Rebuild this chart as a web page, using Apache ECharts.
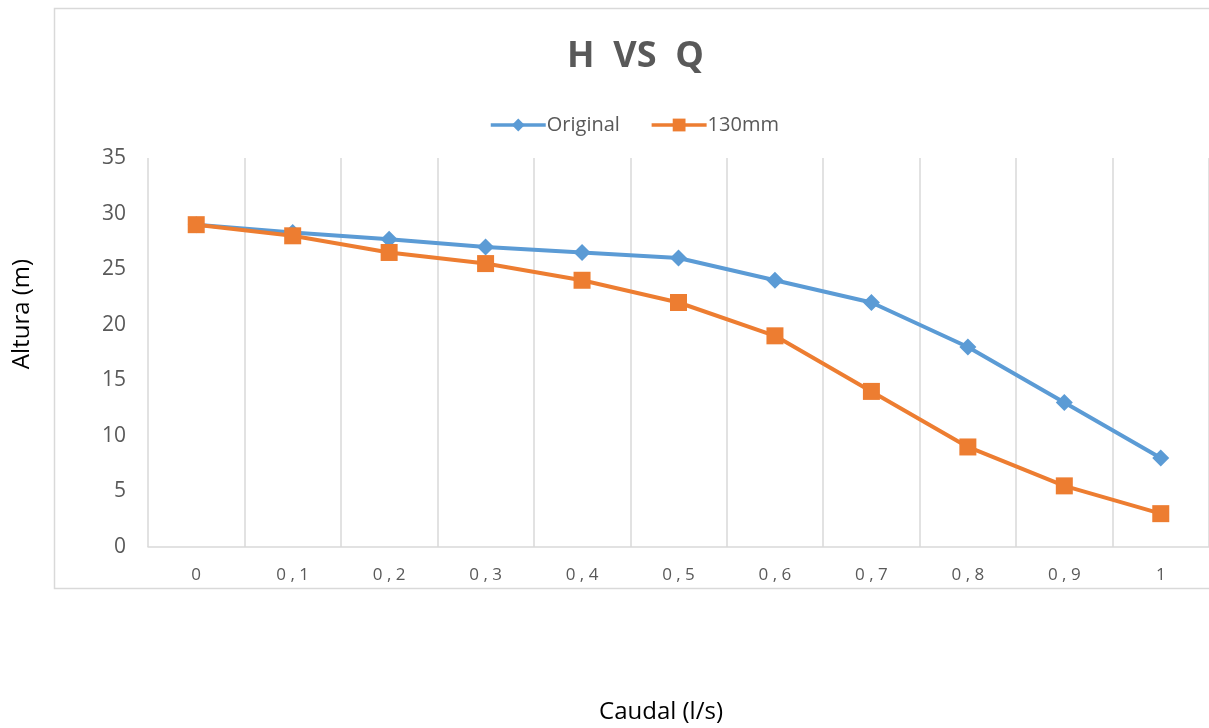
<!DOCTYPE html>
<html>
<head>
<meta charset="utf-8">
<script src="https://cdn.jsdelivr.net/npm/echarts@6/dist/echarts.min.js"></script>
<style>html,body{margin:0;padding:0;background:#fff}#c{width:1209px;height:728px}</style>
</head>
<body>
<div id="c"></div>
<script>
const categories = ['0', '0,1', '0,2', '0,3', '0,4', '0,5', '0,6', '0,7', '0,8', '0,9', '1'];
const original = [29, 28.3, 27.7, 27, 26.5, 26, 24, 22, 18, 13, 8];
const mm130 = [29, 28, 26.5, 25.5, 24, 22, 19, 14, 9, 5.5, 3];
const yTicks = [0, 5, 10, 15, 20, 25, 30, 35];

const FONT = "'Open Sans', 'Liberation Sans', sans-serif";
const chart = echarts.init(document.getElementById('c'));
chart.setOption({
  animation: false,
  backgroundColor: '#fff',
  graphic: [{
    type: 'rect', z: -10, silent: true,
    shape: { x: 54.5, y: 8.5, width: 1200, height: 580 },
    style: { fill: 'none', stroke: '#d9d9d9', lineWidth: 1.5 }
  }, {
    type: 'text', silent: true, x: 22, y: 314, rotation: Math.PI / 2,
    style: { text: 'Altura (m)', fontFamily: FONT, fontSize: 24, fill: '#000',
      align: 'center', verticalAlign: 'middle' }
  }, {
    type: 'text', silent: true, x: 661, y: 712,
    style: { text: 'Caudal (l/s)', fontFamily: FONT, fontSize: 24, fill: '#000',
      align: 'center', verticalAlign: 'middle' }
  }],
  title: {
    text: 'H  VS  Q', left: 562, top: 34,
    textStyle: { fontFamily: FONT, fontSize: 36, fontWeight: 'bold', color: '#595959' }
  },
  legend: {
    top: 110, left: 484, itemWidth: 55, itemHeight: 16, itemGap: 30,
    lineStyle: { width: 3.5 },
    textStyle: { fontFamily: FONT, fontSize: 20, color: '#595959', padding: [0, 0, 0, -4] },
    data: ['Original', '130mm']
  },
  grid: { left: 148, right: 0, top: 158, bottom: 181, outerBoundsMode: 'none', containLabel: false },
  xAxis: {
    type: 'category', data: categories, boundaryGap: true,
    axisLine: { lineStyle: { color: '#d9d9d9', width: 1.5 } },
    axisTick: { show: false },
    axisLabel: { fontFamily: FONT, fontSize: 17, color: '#595959', margin: 20,
      formatter: v => v.split('').join(' ') },
    splitLine: { show: true, interval: 0, lineStyle: { color: '#d9d9d9', width: 1.5 } }
  },
  yAxis: {
    type: 'value', min: 0, max: 35, interval: 5,
    axisLine: { show: false }, axisTick: { show: false },
    axisLabel: { fontFamily: FONT, fontSize: 21, color: '#595959', margin: 22,
      formatter: v => yTicks.includes(v) ? String(v) : '' },
    splitLine: { show: false }
  },
  series: [{
    name: 'Original', type: 'line', data: original,
    symbol: 'diamond', symbolSize: 17,
    lineStyle: { color: '#5b9bd5', width: 4 },
    itemStyle: { color: '#5b9bd5' }
  }, {
    name: '130mm', type: 'line', data: mm130,
    symbol: 'rect', symbolSize: 17,
    lineStyle: { color: '#ed7d31', width: 4 },
    itemStyle: { color: '#ed7d31' }
  }]
});
</script>
</body>
</html>
